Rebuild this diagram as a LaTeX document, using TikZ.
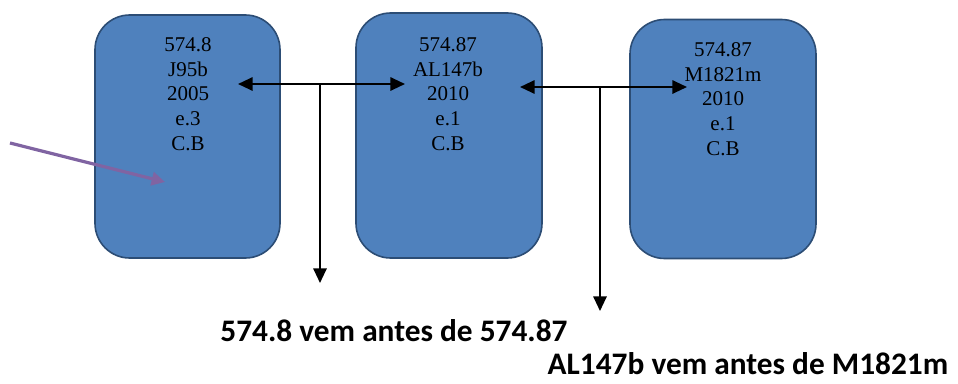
\documentclass[tikz,border=0pt]{standalone}
\usepackage{fontspec}
\setmainfont{Liberation Serif}
\newfontfamily\notefont{Carlito}
\usetikzlibrary{arrows.meta,shapes}
\definecolor{boxfill}{HTML}{4F81BD}
\definecolor{boxline}{HTML}{2C4D75}
\definecolor{pointer}{HTML}{8064A2}
\tikzstyle{shelf}=[rectangle,rounded corners=26pt,draw=boxline,fill=boxfill,line width=1.2pt]
\tikzstyle{tag}=[align=center,font=\fontsize{15.75}{18.6}\selectfont]
\tikzstyle{note}=[font=\notefont\bfseries\fontsize{23.5}{28}\selectfont]
\tikzstyle{both}=[line width=1.5pt,{Triangle[length=11pt,width=10pt]}-{Triangle[length=11pt,width=10pt]}]
\tikzstyle{down}=[line width=1.5pt,-{Triangle[length=11pt,width=10pt]}]
\tikzstyle{hint}=[line width=2.4pt,color=pointer,-{Triangle[length=10pt,width=10pt]}]

\begin{document}
\begin{tikzpicture}[x=0.75pt,y=-0.75pt]
  \useasboundingbox (0,0) rectangle (958,383);

  \node[shelf,minimum width=138.75pt,minimum height=182.25pt] (b1) at (187.5,136.5) {};
  \node[shelf,minimum width=139.5pt,minimum height=183.75pt] (b2) at (449,135.5) {};
  \node[shelf,minimum width=139.5pt,minimum height=179.25pt] (b3) at (723,139) {};

  \node[tag] (t1) at (188,94) {574.8\\J95b\\2005\\e.3\\C.B};
  \node[tag] (t2) at (448,94) {574.87\\AL147b\\2010\\e.1\\C.B};
  \node[tag] (t3) at (723,99) {574.87\\M1821m\\2010\\e.1\\C.B};

  % pointers between the shelf marks
  \coordinate (l1) at (238,84);
  \coordinate (r1) at (405,84);
  \coordinate (m1) at (320,84);
  \coordinate (d1) at (320,283);
  \path[both] (l1) edge (r1);
  \path[down] (m1) edge (d1);

  \coordinate (l2) at (520,87);
  \coordinate (r2) at (687,87);
  \coordinate (m2) at (600,87);
  \coordinate (d2) at (600,311);
  \path[both] (l2) edge (r2);
  \path[down] (m2) edge (d2);

  \coordinate (p0) at (10,143);
  \coordinate (p1) at (165,182);
  \draw[hint] (p0) -- (p1);

  \node[note] (n1) at (394,331) {574.8 vem antes de 574.87};
  \node[note] (n2) at (748,364) {AL147b vem antes de M1821m};
\end{tikzpicture}
\end{document}
